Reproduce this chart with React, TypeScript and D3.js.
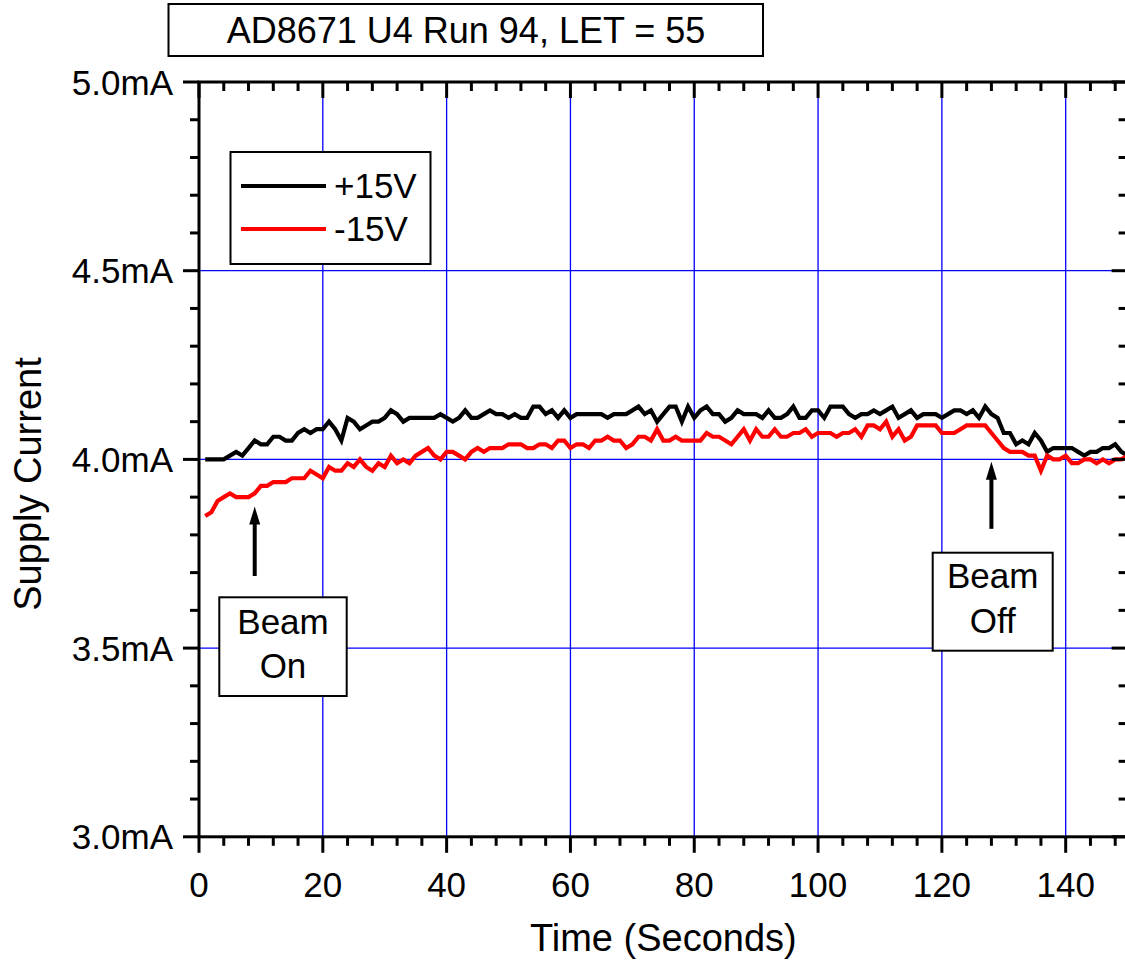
import React from "react";
import * as d3 from "d3";

const title = "AD8671 U4 Run 94, LET = 55";
const xLabel = "Time (Seconds)";
const yLabel = "Supply Current";
const seriesNames = ["+15V", "-15V"];
const seriesColors = ["#000000", "#ff0000"];

const times = d3.range(1, 151);

const plus15 = [
  4.00, 4.00, 4.00, 4.00, 4.01, 4.02, 4.01, 4.03, 4.05, 4.04,
  4.04, 4.06, 4.06, 4.05, 4.05, 4.07, 4.08, 4.07, 4.08, 4.08,
  4.10, 4.08, 4.05, 4.11, 4.10, 4.08, 4.09, 4.10, 4.10, 4.11,
  4.13, 4.12, 4.10, 4.11, 4.11, 4.11, 4.11, 4.11, 4.12, 4.11,
  4.10, 4.11, 4.13, 4.11, 4.11, 4.12, 4.13, 4.12, 4.12, 4.11,
  4.12, 4.11, 4.11, 4.14, 4.14, 4.12, 4.13, 4.11, 4.13, 4.11,
  4.12, 4.12, 4.12, 4.12, 4.12, 4.11, 4.12, 4.12, 4.12, 4.13,
  4.14, 4.12, 4.13, 4.10, 4.12, 4.14, 4.14, 4.10, 4.14, 4.11,
  4.13, 4.14, 4.12, 4.12, 4.10, 4.11, 4.13, 4.12, 4.12, 4.12,
  4.11, 4.13, 4.11, 4.11, 4.12, 4.14, 4.11, 4.11, 4.13, 4.13,
  4.11, 4.14, 4.14, 4.14, 4.12, 4.11, 4.12, 4.12, 4.13, 4.12,
  4.13, 4.14, 4.11, 4.12, 4.13, 4.11, 4.12, 4.12, 4.12, 4.11,
  4.12, 4.13, 4.13, 4.12, 4.13, 4.11, 4.14, 4.12, 4.11, 4.07,
  4.07, 4.04, 4.05, 4.04, 4.07, 4.05, 4.02, 4.03, 4.03, 4.03,
  4.03, 4.02, 4.01, 4.02, 4.02, 4.03, 4.03, 4.04, 4.02, 4.01,
];

const minus15 = [
  3.85, 3.86, 3.89, 3.90, 3.91, 3.90, 3.90, 3.90, 3.91, 3.93,
  3.93, 3.94, 3.94, 3.94, 3.95, 3.95, 3.95, 3.97, 3.96, 3.95,
  3.98, 3.97, 3.97, 3.99, 3.98, 4.00, 3.98, 3.97, 3.99, 3.98,
  4.01, 3.99, 4.00, 3.99, 4.01, 4.02, 4.03, 4.01, 4.00, 4.02,
  4.02, 4.01, 4.00, 4.02, 4.03, 4.02, 4.03, 4.03, 4.03, 4.04,
  4.04, 4.04, 4.03, 4.03, 4.04, 4.04, 4.03, 4.05, 4.05, 4.03,
  4.04, 4.04, 4.03, 4.05, 4.05, 4.06, 4.05, 4.05, 4.03, 4.04,
  4.06, 4.06, 4.05, 4.08, 4.05, 4.05, 4.06, 4.05, 4.05, 4.05,
  4.05, 4.07, 4.06, 4.06, 4.05, 4.04, 4.06, 4.08, 4.05, 4.08,
  4.06, 4.06, 4.08, 4.06, 4.06, 4.07, 4.07, 4.08, 4.06, 4.07,
  4.07, 4.07, 4.06, 4.07, 4.07, 4.08, 4.06, 4.09, 4.09, 4.08,
  4.10, 4.06, 4.08, 4.05, 4.06, 4.09, 4.09, 4.09, 4.09, 4.07,
  4.07, 4.07, 4.08, 4.09, 4.09, 4.09, 4.09, 4.07, 4.05, 4.03,
  4.02, 4.02, 4.02, 4.01, 4.01, 3.97, 4.01, 4.00, 4.00, 4.01,
  3.99, 3.99, 4.00, 4.00, 3.99, 4.00, 3.99, 4.00, 4.00, 4.01,
];

const xMajorTicks = d3.range(0, 141, 20);
const xMinorTicks = d3.range(0, 151, 4).filter((v) => v % 20 !== 0);
const yMajorTicks = [3.0, 3.5, 4.0, 4.5, 5.0];
const yMinorTicks = d3.range(30, 51).map((v) => v / 10).filter((v) => Math.round(v * 10) % 5 !== 0);

const annotations = [
  { lines: ["Beam", "On"], t: 9, tip: 3.875, tail: 3.691 },
  { lines: ["Beam", "Off"], t: 128, tip: 3.994, tail: 3.816 },
];

const W = 1125;
const H = 962;
const FONT = "'Liberation Sans', Arial, Helvetica, sans-serif";

export default function App() {
  const left = 199;
  const right = 1127.6;
  const top = 82;
  const bottom = 836.8;
  const x = d3.scaleLinear().domain([0, 150]).range([left, right]);
  const y = d3.scaleLinear().domain([3, 5]).range([bottom, top]);

  const line = d3
    .line<number>()
    .x((_, i) => x(times[i]))
    .y((d) => y(d));

  const series = [plus15, minus15];
  const major = 16;
  const minor = 9;

  const boxes = [
    { x0: 219.3, x1: 346.7, y0: 597.3, y1: 696, b1: 634, b2: 678 },
    { x0: 932.7, x1: 1052.7, y0: 552.7, y1: 650.7, b1: 588, b2: 633 },
  ];

  return (
    <svg
      width={W}
      height={H}
      style={{ position: "absolute", left: 0, top: 0, background: "#fff" }}
      fontFamily={FONT}
    >
      <rect x={0} y={0} width={W} height={H} fill="#fff" />
      {xMajorTicks.filter((t) => t > 0).map((t) => (
        <line key={"gx" + t} x1={x(t)} x2={x(t)} y1={top} y2={bottom} stroke="#0000ff" strokeWidth={1.3} />
      ))}
      {yMajorTicks.filter((v) => v > 3 && v < 5).map((v) => (
        <line key={"gy" + v} x1={left} x2={right} y1={y(v)} y2={y(v)} stroke="#0000ff" strokeWidth={1.3} />
      ))}

      {series.map((s, i) => (
        <path key={"s" + i} d={line(s) || ""} fill="none" stroke={seriesColors[i]} strokeWidth={4.2} strokeLinejoin="miter" />
      ))}

      <rect x={left} y={top} width={right - left} height={bottom - top} fill="none" stroke="#000" strokeWidth={3} />

      {xMajorTicks.map((t) => (
        <g key={"xt" + t}>
          <line x1={x(t)} x2={x(t)} y1={bottom} y2={bottom + major} stroke="#000" strokeWidth={3} />
          <line x1={x(t)} x2={x(t)} y1={top} y2={top + major} stroke="#000" strokeWidth={3} />
          <text x={x(t)} y={897} textAnchor="middle" fontSize={35} fill="#000">
            {t}
          </text>
        </g>
      ))}
      {xMinorTicks.map((t) => (
        <g key={"xm" + t}>
          <line x1={x(t)} x2={x(t)} y1={bottom} y2={bottom + minor} stroke="#000" strokeWidth={3} />
          <line x1={x(t)} x2={x(t)} y1={top} y2={top + minor} stroke="#000" strokeWidth={3} />
        </g>
      ))}

      {yMajorTicks.map((v) => (
        <g key={"yt" + v}>
          <line x1={left - major} x2={left} y1={y(v)} y2={y(v)} stroke="#000" strokeWidth={3} />
          <line x1={right - major} x2={right} y1={y(v)} y2={y(v)} stroke="#000" strokeWidth={3} />
          <text x={173} y={y(v) + 12.5} textAnchor="end" fontSize={35} fill="#000">
            {d3.format(".1f")(v) + "mA"}
          </text>
        </g>
      ))}
      {yMinorTicks.map((v) => (
        <g key={"ym" + v}>
          <line x1={left - minor} x2={left} y1={y(v)} y2={y(v)} stroke="#000" strokeWidth={3} />
          <line x1={right - minor} x2={right} y1={y(v)} y2={y(v)} stroke="#000" strokeWidth={3} />
        </g>
      ))}

      <text x={(left + right) / 2} y={951} textAnchor="middle" fontSize={38} fill="#000">
        {xLabel}
      </text>
      <text
        transform={`translate(41, ${484}) rotate(-90)`}
        textAnchor="middle"
        fontSize={38}
        fill="#000"
      >
        {yLabel}
      </text>

      <rect x={168.5} y={4} width={594.5} height={52} fill="#fff" stroke="#000" strokeWidth={2} />
      <text x={466} y={43} textAnchor="middle" fontSize={36} fill="#000">
        {title}
      </text>

      <rect x={230.5} y={152} width={200} height={112} fill="#fff" stroke="#000" strokeWidth={2} />
      {seriesNames.map((n, i) => (
        <g key={"lg" + i}>
          <line x1={241} x2={326} y1={186 + i * 43} y2={186 + i * 43} stroke={seriesColors[i]} strokeWidth={4.2} />
          <text x={334} y={198 + i * 43} fontSize={35} fill="#000">
            {n}
          </text>
        </g>
      ))}

      {annotations.map((a, i) => {
        const ax = x(a.t);
        const tipY = y(a.tip);
        const tailY = y(a.tail);
        const b = boxes[i];
        const cx = (b.x0 + b.x1) / 2;
        return (
          <g key={"an" + i}>
            <line x1={ax} x2={ax} y1={tailY} y2={tipY + 14} stroke="#000" strokeWidth={4} />
            <path d={`M${ax},${tipY} L${ax - 5.5},${tipY + 18} L${ax + 5.5},${tipY + 18} Z`} fill="#000" />
            <rect x={b.x0} y={b.y0} width={b.x1 - b.x0} height={b.y1 - b.y0} fill="#fff" stroke="#000" strokeWidth={2} />
            <text x={cx} y={b.b1} textAnchor="middle" fontSize={35} fill="#000">
              {a.lines[0]}
            </text>
            <text x={cx} y={b.b2} textAnchor="middle" fontSize={35} fill="#000">
              {a.lines[1]}
            </text>
          </g>
        );
      })}
    </svg>
  );
}
